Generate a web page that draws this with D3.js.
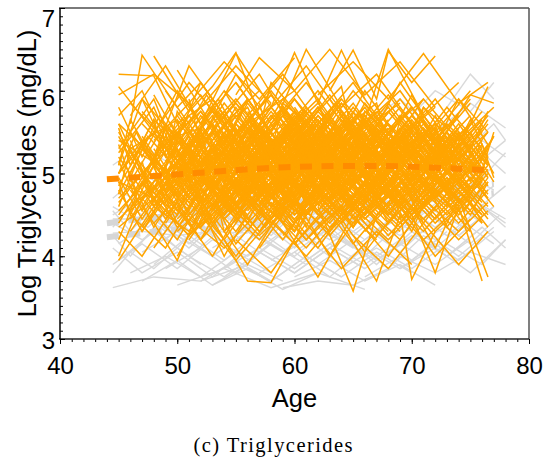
<!DOCTYPE html>
<html><head><meta charset="utf-8">
<script src="https://cdn.jsdelivr.net/npm/d3@7"></script>
<style>body{margin:0;background:#fff}svg{display:block}</style>
</head><body>
<svg id="c" width="544" height="465"></svg>
<script>
// x-axis and y-axis ticks
const xTicks = [40, 50, 60, 70, 80];
const yTicks = [3, 4, 5, 6, 7];
const xTitle = "Age";
const yTitle = "Log Triglycerides (mg/dL)";
const caption = "(c) Triglycerides";

// Subject trajectories (flat lists: age, value, age, value, ...)
const orangeSubjects = [
[45,6.2,48,6.18,50,5.6,53,5.9,56,5.3],
[45,5.1,47,5.9,50,5.4,52,6.1,55,5.5,58,5.8],
[45,4.6,47,5.3,50,4.9,53,5.6,56,5.1,59,5.4],
[45,5.5,48,4.8,51,5.3,54,4.7,57,5.2,60,4.9],
[45,4.2,47,4.9,50,4.5,52,5.2,55,4.8],
[45,3.95,48,4.6,51,4.3,54,5.0,57,4.6,60,5.1],
[45,5.8,47,5.2,50,6.0,53,5.4,56,5.9,59,5.3],
[45,5.0,48,5.5,51,4.7,54,5.3,57,4.9,60,5.6,63,5.1],
[45,4.8,47,4.3,50,5.0,53,4.4,56,4.9],
[45,5.3,48,5.9,50,5.2,53,5.7,56,5.0,59,5.4],
[45,4.4,48,5.1,51,4.6,54,5.3,57,4.8,60,5.5,63,4.9],
[45,5.6,47,5.0,50,5.5,53,4.9,55,5.6],
[45,4.0,47,4.7,50,4.2,53,4.9,56,4.5],
[45,5.2,48,4.6,51,5.4,54,4.8,57,5.5,60,5.0,63,5.6],
[45,6.05,48,5.5,51,6.1,54,5.6,57,6.0],
[46,4.9,49,5.6,52,5.1,55,5.8,58,5.2,61,5.7],
[46,5.4,48,4.7,51,5.2,54,4.5,57,5.1,60,4.6],
[46,4.5,49,4.1,52,4.8,55,4.3,58,4.9,61,4.4],
[46,5.7,49,6.3,52,5.6,55,6.1,58,5.5],
[47,5.0,50,5.4,53,4.8,56,5.5,59,5.0,62,5.3,65,4.9],
[47,4.3,50,4.9,53,4.4,56,5.0,59,4.6],
[47,5.9,49,5.3,52,5.8,55,5.1,58,5.7,61,5.2],
[47,4.7,50,5.3,53,4.6,56,5.4,59,4.9,62,5.5],
[48,5.2,51,6.3,54,5.7,57,6.2,60,5.5],
[48,4.1,51,4.7,54,4.2,57,4.8,60,4.3,63,4.9],
[48,5.5,51,5.0,54,5.6,57,5.0,60,5.7,63,5.2,66,5.6],
[48,4.8,50,5.4,53,4.9,56,5.5,59,5.1,62,5.6],
[49,5.3,52,4.7,55,5.4,58,4.8,61,5.2,64,4.7],
[49,6.0,52,5.4,55,6.2,58,5.6,61,6.1,64,5.5],
[49,4.4,52,5.0,55,4.5,58,5.2,61,4.7,64,5.1],
[50,5.1,53,5.8,56,5.2,59,5.7,62,5.0,65,5.5],
[50,4.6,53,4.0,56,4.7,59,4.2,62,4.8,65,4.4],
[50,5.7,53,5.1,56,5.9,59,5.3,62,5.8,65,5.2,68,5.6],
[50,4.9,53,5.5,56,4.8,59,5.4,62,5.0,65,5.6],
[51,5.4,54,6.0,57,5.3,60,5.9,63,5.4,66,5.8],
[51,4.2,54,4.8,57,4.3,60,4.9,63,4.5],
[51,5.0,54,4.5,57,5.2,60,4.6,63,5.3,66,4.8,69,5.2],
[52,5.6,55,6.45,58,5.8,61,6.3,64,5.7],
[52,4.7,55,5.3,58,4.6,61,5.2,64,4.8,67,5.4],
[52,5.3,55,4.8,58,5.5,61,4.9,64,5.6,67,5.1,70,5.5],
[53,4.5,56,3.9,59,4.6,62,4.1,65,4.7,68,4.3],
[53,5.8,56,5.2,59,5.9,62,5.4,65,6.0,68,5.5],
[53,5.0,56,5.6,59,5.1,62,5.7,65,5.2,68,5.6],
[54,4.8,57,5.4,60,4.9,63,5.5,66,5.0,69,5.4,72,4.9],
[54,5.5,57,4.9,60,5.6,63,5.0,66,5.7,69,5.2],
[54,4.3,57,4.9,60,4.4,63,5.0,66,4.5,69,5.0],
[55,6.1,58,5.5,61,6.5,64,5.8,67,6.2,70,5.6],
[55,5.2,58,5.8,61,5.3,64,5.9,67,5.4,70,5.8],
[55,4.6,58,5.1,61,4.5,64,5.2,67,4.7,70,5.3,73,4.8],
[56,5.0,59,4.4,62,5.1,65,4.6,68,5.2,71,4.7],
[56,5.7,59,6.2,62,5.6,65,6.1,68,5.5,71,5.9],
[56,4.9,59,5.5,62,5.0,65,5.6,68,5.1,71,5.5,74,5.0],
[57,4.1,60,4.7,63,4.0,66,4.6,69,4.2,72,4.8],
[57,5.4,60,5.9,63,5.3,66,5.8,69,5.2,72,5.6],
[57,5.1,60,4.6,63,5.3,66,4.7,69,5.4,72,4.9,75,5.3],
[58,5.6,61,5.0,64,5.7,67,5.1,70,5.6,73,5.0],
[58,4.7,61,5.3,64,4.8,67,5.4,70,4.9,73,5.5],
[59,5.3,62,5.8,65,5.2,68,6.5,71,5.7,74,6.1],
[59,4.4,62,3.75,65,4.5,68,4.0,71,4.6],
[60,5.0,63,5.6,66,5.1,69,5.7,72,5.2,75,5.6],
[60,5.8,63,5.2,66,6.0,69,5.4,72,5.9,75,5.3],
[61,4.9,64,5.4,67,4.7,70,5.3,73,4.8,76,5.2],
[61,5.5,64,4.9,67,5.6,70,5.0,73,5.5,76,4.9],
[62,4.6,65,5.2,68,4.5,71,5.1,74,4.6,76.5,5.0],
[62,5.2,65,5.8,68,5.3,71,5.9,74,5.4,77,5.8],
[63,5.9,66,5.3,69,6.1,72,5.5,75,6.0],
[63,4.3,66,4.9,69,4.4,72,5.0,75,4.5,76.5,4.9],
[64,5.4,67,4.8,70,5.5,73,4.9,76,5.4],
[64,5.0,67,5.5,70,5.0,73,5.6,76.5,5.1],
[65,4.7,68,5.3,71,4.6,74,5.2,76.5,4.7],
[66,5.6,69,6.0,72,5.4,75,5.9],
[67,5.1,70,4.5,73,5.2,76,4.4],
[45,5.35,46.5,4.75,49,5.45,51.5,4.95,54,5.5,57,5.05,60,5.55],
[45,4.85,47.5,5.45,50,5.05,52.5,5.65,55,5.15,58,5.7,61,5.2],
[45,5.15,47,4.55,49.5,5.2,52,4.6,55,5.3,58,4.75],
[46,5.0,48.5,5.7,51,5.2,54,5.85,57,5.3,60,5.75,63,5.25],
[46,4.7,48,5.2,51,4.5,54,5.1,57,4.6,60,5.2],
[47,5.45,49.5,4.9,52,5.5,55,5.0,58,5.6,61,5.1,64,5.5],
[48,5.05,50.5,5.6,53,5.1,56,5.65,59,5.2,62,5.75,65,5.3],
[49,4.9,51.5,4.3,54,5.0,57,4.5,60,5.1,63,4.6,66,5.0],
[50,5.35,52.5,5.95,55,5.4,58,6.0,61,5.45,64,5.9],
[51,5.15,53.5,4.7,56,5.3,59,4.85,62,5.4,65,4.9,68,5.3],
[52,4.95,54.5,5.5,57,5.05,60,5.6,63,5.1,66,5.65,69,5.15],
[53,5.25,55.5,4.65,58,5.3,61,4.75,64,5.35,67,4.85,70,5.4],
[54,5.05,56.5,5.65,59,5.15,62,5.7,65,5.2,68,5.75,71,5.25],
[55,4.85,57.5,5.35,60,4.7,63,5.3,66,4.8,69,5.35,72,4.9],
[56,5.45,58.5,4.95,61,5.6,64,5.05,67,5.55,70,5.0,73,5.45],
[57,4.9,59.5,5.5,62,4.95,65,5.55,68,5.0,71,5.5,74,5.05],
[58,5.2,60.5,4.6,63,5.25,66,4.7,69,5.3,72,4.75,75,5.2],
[59,5.6,61.5,5.05,64,5.65,67,5.1,70,5.6,73,5.1,76,5.5],
[60,4.95,62.5,5.45,65,4.85,68,5.4,71,4.9,74,5.35,76.5,4.85],
[61,5.3,63.5,5.85,66,5.3,69,5.8,72,5.25,75,5.7],
[62,5.0,64.5,4.5,67,5.1,70,4.55,73,5.05,76,4.6],
[63,5.25,65.5,5.75,68,5.2,71,5.7,74,5.15,76.5,5.6],
[64,4.8,66.5,5.3,69,4.75,72,5.25,75,4.7],
[45,5.7,47,6.0,49,5.4,52,5.95,55,5.35,58,5.85],
[45,4.55,48,5.0,50,4.4,53,4.95,56,4.45,59,5.0,62,4.5],
[46,5.25,49,4.8,52,5.35,55,4.85,58,5.4,61,4.95],
[47,5.6,50,5.15,53,5.75,56,5.2,59,5.8,62,5.25,65,5.7],
[48,4.55,51,5.15,54,4.6,57,5.2,60,4.65,63,5.25,66,4.7],
[49,5.15,52,5.75,55,5.2,58,5.8,61,5.25,64,5.85,67,5.3],
[50,5.5,53,4.95,56,5.55,59,5.0,62,5.6,65,5.05,68,5.55],
[51,4.75,54,5.25,57,4.7,60,5.3,63,4.8,66,5.35,69,4.85],
[52,5.1,55,5.6,58,5.05,61,5.65,64,5.1,67,5.6,70,5.05],
[53,5.45,56,4.9,59,5.5,62,4.95,65,5.55,68,5.0,71,5.5],
[54,4.95,57,5.45,60,4.9,63,5.5,66,4.95,69,5.55,72,5.0],
[55,5.3,58,4.75,61,5.35,64,4.8,67,5.4,70,4.85,73,5.35],
[56,5.15,59,5.7,62,5.15,65,5.75,68,5.2,71,5.7,74,5.15],
[57,5.55,60,5.05,63,5.6,66,5.1,69,5.65,72,5.15,75,5.6],
[58,4.85,61,5.4,64,4.9,67,5.45,70,4.95,73,5.4,76,4.9],
[59,5.05,62,4.55,65,5.1,68,4.6,71,5.15,74,4.65,76.5,5.1],
[60,5.4,63,5.95,66,5.4,69,5.9,72,5.35,75,5.85],
[61,5.1,64,5.6,67,5.05,70,5.65,73,5.1,76,5.55],
[62,5.45,65,4.95,68,5.5,71,5.0,74,5.45,76.5,4.95],
[45,4.3,47,4.0,50,4.65,52,4.2,55,4.7],
[50,4.0,52,4.5,55,3.95,58,4.45,61,4.0,64,4.5],
[55,4.2,58,3.8,61,4.4,64,3.85,67,4.3,70,3.9],
[60,4.15,63,4.65,66,4.05,69,4.6,72,4.0,75,4.45],
[65,4.25,68,3.85,71,4.4,74,3.9,76.5,4.3],
[70,4.6,72,4.1,74,4.7,76.5,3.75],
[45,5.95,48,6.2,51,5.85,54,6.35,57,5.9,60,6.4],
[55,5.95,57,6.4,60,6.0,63,6.5,66,5.95,69,6.35,72,5.8],
[62,5.95,65,6.35,68,5.9,71,6.45,74,5.85,76.5,6.1],
[68,5.4,70,5.95,72,5.35,74,5.9,76.5,5.5],
[70,5.2,72,5.7,74,5.1,76.5,5.65],
[66,4.9,69,5.45,72,4.85,75,5.35,77,4.9],
[50,6.25,52,5.8,55,6.3,58,5.85],
[46,4.3,49,4.9,52,4.35,55,4.95,58,4.4],
[71,5.0,73,5.5,75,4.9,77,5.45],
[67,5.75,70,5.25,73,5.8,76,5.3],
[45,5.0,46.5,5.5,49,4.8,50.5,5.25,53,5.6,55,4.9,58,5.3],
[45,4.7,48,5.15,49.5,5.6,52,5.0,55,4.6,57,5.2,60,5.45],
[45,5.45,47,4.95,49,4.6,52,5.3,54,5.75,57,5.1,59,5.5],
[45,5.25,48,5.8,50,5.15,51.5,4.85,54,5.45,57,4.95,60,5.4,62,5.05],
[45,4.95,47,4.45,50,5.1,52,5.55,55,5.05,58,4.7,61,5.2],
[45,5.6,48,5.2,51,5.7,53,5.3,56,4.95,59,5.55],
[46,5.1,48,5.65,51,5.25,54,4.75,56,5.35,59,5.8,62,5.15],
[46,4.6,49,5.05,51,4.7,54,5.2,57,5.5,60,4.9,63,5.35],
[46,5.5,48.5,5.05,51,5.5,53.5,5.9,56,5.25,59,4.85,62,5.3],
[47,4.85,49,5.35,52,5.75,55,5.2,57,4.75,60,5.15,63,5.6],
[47,5.3,50,4.75,52.5,5.2,55,4.65,58,5.05,61,5.5,64,4.95],
[47,5.75,49.5,5.3,52,4.9,55,5.45,58,5.95,61,5.4,64,5.0],
[48,5.0,50,4.55,53,5.15,56,5.6,58,5.1,61,4.7,64,5.25,67,4.8],
[48,5.4,51,5.85,53,5.35,56,4.95,59,5.45,62,5.85,65,5.3],
[48,4.75,50.5,5.25,53,4.8,56,5.35,58.5,4.9,61,5.5,64,5.0],
[49,5.55,51,5.0,54,5.45,57,4.85,60,5.35,63,5.0,66,5.5],
[49,5.0,52,5.45,55,5.9,58,5.35,61,4.8,64,5.3,67,5.7],
[49,4.65,51.5,5.1,54,4.6,57,5.1,60,5.55,63,5.05,66,4.6],
[50,5.25,52,5.7,55,5.15,57,4.7,60,5.2,63,5.65,66,5.05,69,5.45],
[50,4.8,53,5.3,55.5,4.75,58,5.25,61,4.65,64,5.15,67,4.7],
[50,5.65,52.5,5.15,55,5.7,58,5.25,61,5.8,64,5.3,67,5.75],
[51,4.9,53,4.45,56,4.95,59,5.5,62,5.0,65,4.55,68,5.05],
[51,5.5,54,5.05,56.5,5.6,59,5.15,62,5.65,65,5.1,68,5.6,71,5.2],
[51,5.2,53.5,5.75,56,5.3,59,4.8,62,5.35,65,5.85,68,5.25],
[52,4.6,54,5.05,57,4.55,60,5.1,63,4.65,66,5.2,69,4.7],
[52,5.35,55,5.85,58,5.25,60.5,5.75,63,5.2,66,5.7,69,5.1],
[52,5.0,54.5,5.5,57,5.0,59.5,4.55,62,5.05,65,5.55,68,5.0,71,5.4],
[53,5.7,55,5.2,58,5.75,61,5.2,63,5.7,66,5.15,69,5.65],
[53,4.85,56,5.35,59,4.8,62,5.3,64.5,4.75,67,5.25,70,4.8],
[53,5.15,55.5,4.7,58,5.25,61,5.75,64,5.15,67,4.7,70,5.2,73,5.6],
[54,5.35,56,5.85,59,5.3,62,4.85,65,5.35,68,5.85,71,5.3],
[54,4.7,57,5.2,59.5,4.6,62,5.15,65,4.7,68,5.25,71,4.75],
[54,5.6,57,5.1,60,5.65,63,5.15,65.5,5.7,68,5.2,71,5.65,74,5.1],
[55,5.05,57,5.55,60,5.0,63,5.5,66,4.95,69,5.45,72,5.0],
[55,5.5,58,5.95,61,5.35,64,5.85,67,5.3,70,5.8,73,5.25],
[55,4.8,57.5,4.35,60,4.85,63,4.4,66,4.9,69,4.45,72,4.95],
[56,5.3,58,4.8,61,5.35,64,4.85,67,5.4,70,4.9,73,5.35],
[56,5.75,59,5.25,62,5.8,65,5.3,68,5.8,71,5.25,74,5.7],
[56,4.95,58.5,5.45,61,4.9,64,5.45,66.5,4.95,69,5.5,72,5.0,75,5.4],
[57,5.2,60,5.7,62,5.15,65,5.65,68,5.1,71,5.6,74,5.05],
[57,4.65,60,5.15,63,4.7,66,5.2,69,4.65,72,5.15,75,4.7],
[57,5.6,59.5,5.1,62,5.65,65,5.1,68,5.6,71,5.05,74,5.55],
[58,5.0,61,5.5,64,4.95,67,5.5,70,5.0,73,5.5,76,5.0],
[58,5.4,60,4.9,63,5.45,66,4.95,69,5.5,72,5.0,75,5.45],
[58,4.75,61,5.25,63.5,4.7,66,5.25,69,4.75,72,5.3,75,4.8],
[59,5.5,62,6.0,65,5.45,68,5.95,71,5.4,74,5.9,76.5,5.35],
[59,5.15,61,4.65,64,5.2,67,4.7,70,5.25,73,4.75,76,5.2],
[60,4.7,62,5.2,65,4.75,68,5.25,71,4.7,74,5.2,76.5,4.75],
[60,5.3,63,4.8,65.5,5.35,68,4.85,71,5.4,74,4.9,76.5,5.35],
[61,5.6,63,5.1,66,5.65,69,5.15,72,5.6,75,5.1],
[61,4.85,64,5.35,67,4.85,70,5.4,73,4.9,76,5.35],
[62,5.25,64,5.75,67,5.2,70,5.7,73,5.15,76,5.65],
[62,4.8,65,4.35,68,4.9,71,4.4,74,4.95,76.5,4.5],
[63,5.45,66,4.95,69,5.5,72,5.0,75,5.5,77,5.0],
[63,5.0,65,5.5,68,5.0,71,5.55,74,5.05,76.5,5.5],
[64,5.65,67,5.15,70,5.7,73,5.2,76,5.65],
[64,4.55,67,5.05,70,4.6,73,5.1,76,4.65],
[65,5.3,67,4.8,70,5.35,73,4.85,76,5.3],
[65,5.0,68,5.5,71,5.0,74,5.5,76.5,4.95],
[66,5.45,69,4.95,72,5.5,75,5.0,77,5.45],
[66,4.75,69,5.25,72,4.7,75,5.2],
[67,5.3,70,5.8,73,5.25,76,5.75],
[68,4.9,71,5.4,74,4.85,76.5,5.3],
[69,5.55,71,5.05,74,5.6,76.5,5.1],
[45,5.0,47,5.4,49,5.0,51,5.45,53,4.95,55,5.4,57,4.9,59,5.35],
[47,4.95,49,5.4,51,4.9,53,5.35,55,4.85,57,5.3,59,4.85,61,5.3],
[50,5.1,52,5.5,54,5.05,56,5.55,58,5.0,60,5.5,62,5.05,64,5.45],
[53,5.3,55,4.85,57,5.35,59,4.9,61,5.4,63,4.95,65,5.4,67,4.9],
[56,5.05,58,5.5,60,5.0,62,5.55,64,5.05,66,5.5,68,5.0,70,5.45],
[59,4.9,61,5.35,63,4.85,65,5.4,67,4.9,69,5.35,71,4.85,73,5.3],
[62,5.4,64,4.95,66,5.45,68,5.0,70,5.5,72,5.0,74,5.45,76,5.0],
[48,5.3,50,4.85,52,5.4,54,4.9,56,5.45,58,5.0,60,5.4,62,4.95],
[51,4.85,53,5.3,55,4.8,57,5.35,59,4.85,61,5.3,63,4.8,65,5.25],
[54,5.25,56,5.7,58,5.2,60,5.75,62,5.25,64,5.7,66,5.2,68,5.65],
[57,5.45,59,4.95,61,5.5,63,5.0,65,5.45,67,4.95,69,5.4,71,5.0],
[60,5.15,62,5.6,64,5.1,66,5.65,68,5.15,70,5.6,72,5.1,74,5.55],
[63,4.85,65,5.3,67,4.8,69,5.35,71,4.85,73,5.3,75,4.8],
[45,5.4,49,5.05,50,5.75,54,4.9,55,5.5,59,5.2,60,4.7],
[45,4.75,46,5.3,50,5.65,51,4.95,55,5.4,56,4.8,60,5.25],
[46,5.85,49,5.4,52,5.55,53,4.85,57,5.6,59,5.05,62,5.5],
[46,4.45,48,4.9,52,5.35,53,4.7,56,5.15,60,4.75,61,5.4],
[47,5.15,48,4.6,51,5.05,54,5.7,55,5.1,59,5.45,61,4.9],
[48,5.95,50,5.45,53,5.05,55,5.6,58,5.25,59,5.85,63,5.4],
[49,4.85,50,5.4,54,5.0,55,5.55,58,4.75,62,5.2,63,5.75],
[50,4.45,53,4.9,54,4.3,58,4.85,59,4.4,63,5.0,65,4.55],
[51,5.9,52,5.35,56,5.8,58,5.2,61,5.65,62,5.1,66,5.6],
[52,5.45,54,4.8,57,5.4,58,4.95,62,5.5,63,4.85,67,5.35],
[53,4.55,56,5.1,57,4.65,60,4.3,62,4.95,66,4.5,68,5.05],
[54,6.0,57,5.55,58,6.1,61,5.6,64,6.05,65,5.45,69,5.85],
[55,5.15,56,5.65,60,5.2,61,4.7,65,5.3,66,5.75,70,5.2],
[56,4.55,59,5.05,60,4.5,64,5.0,65,4.45,69,4.95,71,4.4],
[57,5.85,58,5.35,62,5.9,63,5.4,67,5.85,68,5.3,72,5.8],
[58,5.25,61,4.75,62,5.3,66,4.8,67,5.35,71,4.85,73,5.3],
[59,4.6,60,5.1,64,4.55,65,5.15,69,4.6,70,5.2,74,4.65],
[60,5.55,63,5.0,64,5.6,68,5.1,69,5.65,73,5.15,75,5.6],
[61,5.0,62,5.5,66,5.0,67,5.55,71,5.05,72,5.5,76,5.0],
[62,5.7,65,5.2,66,5.75,70,5.25,71,5.8,75,5.3,76.5,5.75],
[63,4.65,64,5.15,68,4.6,69,5.1,73,4.6,74,5.1,76.5,4.7],
[64,5.35,66,5.85,69,5.3,71,5.8,74,5.25,76.5,5.7],
[65,4.85,66,5.35,70,4.8,71,5.3,75,4.75,76.5,5.2],
[67,5.55,68,5.0,72,5.55,73,5.05,76.5,5.5],
[45,5.1,46,5.65,48,5.15,49,5.55,51,5.0,52,5.5],
[45,4.9,46,4.5,48,5.1,49,4.65,51,5.15,52,4.7],
[45,5.55,46,5.1,48,5.65,49,5.2,51,5.7],
[70,5.3,71,4.85,73,5.4,74,4.9,76,5.35,77,4.95],
[70,4.95,71,5.45,73,5.0,74,5.5,76,5.05,77,5.5],
[72,5.6,73,5.1,75,5.65,76.5,5.2],
[46,5.6,47,6.43,50,5.8,52,6.1,55,5.5],
[48,6.42,51,5.75,53,6.05,55,6.46,57,5.7,60,6.0],
[58,5.8,60,6.46,62,5.85,64,6.49,66,5.9],
[63,6.0,65,6.49,67,5.9,68,6.48,70,6.1,72,6.42],
[73,5.5,75,5.95,77,5.85],
[74,5.3,76.5,6.05],
[52,4.7,56,3.7,58,3.68,60,4.2,62,4.8],
[62,4.6,65,3.58,67,4.5],
[64,4.4,67,3.7,69,4.5,70,3.72,72,4.3],
[70,4.5,72,3.8,74,4.6,76,3.7],
[48,4.4,50,3.95,52,4.6,54,4.0,56,4.5],
[45,4.65,47,5.0,50,4.55,52,4.95,55,4.5,58,4.9,61,4.45],
[45,4.45,48,4.85,50,4.35,53,4.8,56,4.4,59,4.85],
[46,4.8,48,4.4,51,4.85,54,4.5,57,4.95,60,4.55,63,4.9],
[46,4.55,49,4.95,52,4.5,55,4.9,58,4.45,61,4.8],
[47,4.9,49,4.5,52,4.95,55,4.45,58,4.9,61,4.5,64,4.95],
[48,4.6,50,5.0,53,4.55,56,5.05,59,4.6,62,5.0,65,4.55],
[49,4.75,52,4.35,55,4.8,58,4.4,61,4.85,64,4.45,67,4.9],
[50,4.55,52,4.95,55,4.5,58,4.95,61,4.5,64,4.9,67,4.45],
[51,4.85,54,4.45,57,4.9,60,4.4,63,4.85,66,4.45,69,4.9],
[52,4.5,55,4.9,58,4.45,61,4.95,64,4.5,67,4.95,70,4.5],
[53,4.7,56,5.05,59,4.6,62,5.0,65,4.55,68,4.95,71,4.6],
[54,4.45,57,4.85,60,4.5,63,4.95,66,4.5,69,4.9,72,4.45],
[55,4.95,58,4.55,61,4.95,64,4.5,67,4.9,70,4.5,73,4.85],
[56,4.6,59,5.0,62,4.55,65,4.95,68,4.5,71,4.9,74,4.55],
[57,4.85,60,4.45,63,4.9,66,4.45,69,4.85,72,4.4,75,4.8],
[58,4.5,61,4.9,64,4.45,67,4.9,70,4.5,73,4.95,76,4.5],
[59,4.75,62,5.1,65,4.7,68,5.05,71,4.65,74,5.0,76.5,4.6],
[60,4.55,63,4.95,66,4.5,69,4.9,72,4.45,75,4.85],
[61,4.8,64,4.4,67,4.85,70,4.45,73,4.9,76,4.5],
[62,4.45,65,4.85,68,4.4,71,4.85,74,4.4,76.5,4.8],
[63,4.7,66,5.05,69,4.6,72,5.0,75,4.55],
[64,4.95,67,4.5,70,4.95,73,4.5,76,4.9],
[65,4.5,68,4.9,71,4.45,74,4.9,76.5,4.45],
[66,4.65,69,5.0,72,4.55,75,4.95,77,4.6],
[67,4.9,70,4.45,73,4.85,76,4.4],
[68,4.55,71,4.95,74,4.5,76.5,4.9],
[45,4.75,46.5,5.15,48,4.7,50.5,5.1,52,4.6,54.5,5.05,56,4.65],
[47,4.6,48.5,4.95,51,4.55,52.5,4.95,55,4.55,56.5,5.0,59,4.6],
[50,4.7,51.5,5.1,54,4.65,55.5,5.05,58,4.6,59.5,5.0,62,4.65],
[53,4.95,54.5,4.55,57,5.0,58.5,4.6,61,5.05,62.5,4.65,65,5.0],
[56,4.75,57.5,5.15,60,4.7,61.5,5.1,64,4.65,65.5,5.05,68,4.7],
[59,4.95,60.5,4.55,63,5.0,64.5,4.6,67,5.05,68.5,4.6,71,5.0],
[62,4.7,63.5,5.1,66,4.65,67.5,5.05,70,4.6,71.5,5.0,74,4.65],
[65,5.05,66.5,4.6,69,5.0,70.5,4.55,73,4.95,74.5,4.55,76.5,4.95],
[45,4.9,48,4.7,51,5.05,54,4.65,57,5.0,60,4.7],
[49,5.0,52,4.75,55,5.1,58,4.7,61,5.05,64,4.75,67,5.1],
[54,4.85,57,4.6,60,5.0,63,4.65,66,5.05,69,4.7,72,5.0],
[58,5.05,61,4.7,64,5.1,67,4.75,70,5.05,73,4.7,76,5.05],
[61,4.6,64,4.95,67,4.6,70,5.0,73,4.65,76,5.0],
[51,4.6,53,5.15,56,4.4,58,5.1,61,4.35,63,5.05,66,4.4],
[55,4.4,57,5.0,60,4.3,62,4.95,65,4.35,67,5.0,70,4.4],
[60,4.4,62,5.05,65,4.35,67,5.0,70,4.3,72,4.95,75,4.35],
[46,4.95,48,4.35,51,5.0,53,4.4,56,5.05,58,4.45],
[66,4.95,68,4.4,71,5.0,73,4.35,76,4.95],
[52,5.05,55,4.6,57,5.2,60,4.75,63,5.25,66,4.7,69,5.15],
[57,4.95,59,5.3,62,4.8,65,5.2,68,4.75,71,5.15,74,4.7],
[48,5.1,51,4.65,54,5.15,57,4.7,60,5.2,63,4.75],
[63,5.1,66,4.7,69,5.15,72,4.7,75,5.1],
[70,4.7,72,5.1,74,4.65,76.5,5.05],
[45,4.5,47,4.9,49,4.45,51,4.9,53,4.4],
[47,4.35,49,4.75,52,4.2,54,4.7,57,4.25,60,4.65],
[50,4.3,53,4.7,55,4.15,58,4.65,61,4.2,64,4.6],
[53,4.4,55,4.0,58,4.55,61,4.1,64,4.6,67,4.2],
[56,4.3,58,4.75,61,4.2,64,4.7,67,4.25,70,4.7],
[59,4.25,62,4.7,65,4.15,68,4.65,71,4.2,74,4.6],
[62,4.35,65,4.75,68,4.25,71,4.7,74,4.3,76.5,4.65],
[65,4.6,68,4.2,71,4.65,74,4.2,76.5,4.55],
[48,4.7,51,4.25,54,4.75,57,4.3,60,4.8],
[54,4.6,57,4.2,60,4.7,63,4.25,66,4.75,69,4.3],
[60,4.65,63,4.3,66,4.75,69,4.35,72,4.8,75,4.3],
[57,4.45,60,4.85,63,4.35,66,4.8,69,4.4,72,4.85],
[51,4.45,54,4.1,57,4.55,60,4.15,63,4.6],
[66,4.3,69,4.75,72,4.3,75,4.7],
[45,4.35,48,4.7,51,4.25,54,4.65],
[68,4.75,71,4.3,74,4.8,76.5,4.35]
];

const graySubjects = [
[44.5,4.4,47,4.2,50,4.5,53,4.3,56,4.6],
[44.5,3.62,48,3.75,52,3.7,56,3.9],
[44.5,3.9,47,4.15,50,3.85,53,4.2,56,4.0,59,4.3],
[44.5,4.6,47.5,4.35,50,4.7,53,4.4,56,4.75,59,4.5],
[44.5,4.1,47,3.8,50,4.05,53,3.75,56,4.1],
[45,4.8,48,4.55,51,4.9,54,4.6,57,4.95],
[45,3.95,48,4.3,51,4.0,54,4.35,57,4.05,60,4.4],
[46,4.25,49,4.55,52,4.2,55,4.6,58,4.3,61,4.65],
[47,3.7,50,3.95,53,3.65,56,3.9,59,3.7],
[48,4.45,51,4.15,54,4.5,57,4.2,60,4.55,63,4.3],
[49,3.85,52,4.1,55,3.8,58,4.15,61,3.9,64,4.2],
[50,4.6,53,4.9,56,4.55,59,4.85,62,4.5],
[51,4.0,54,3.75,57,4.05,60,3.8,63,4.1,66,3.85],
[52,4.3,55,4.6,58,4.25,61,4.65,64,4.35,67,4.7],
[53,3.65,56,3.85,59,3.6,62,3.8],
[54,4.15,57,4.45,60,4.1,63,4.5,66,4.2,69,4.55],
[55,3.9,58,3.7,61,4.0,64,3.75,67,4.05,70,3.8],
[56,4.5,59,4.2,62,4.55,65,4.25,68,4.6,71,4.3],
[57,3.8,60,4.05,63,3.75,66,4.1,69,3.85,72,4.15],
[58,4.35,61,4.65,64,4.3,67,4.7,70,4.4,73,4.75],
[59,3.62,62,3.7,65,3.65,68,3.85],
[60,4.05,63,4.35,66,4.0,69,4.4,72,4.1,75,4.45],
[61,4.6,64,4.3,67,4.65,70,4.35,73,4.7,76,4.4],
[62,3.9,65,4.2,68,3.85,71,4.25,74,3.95,77,4.3],
[63,4.45,66,4.75,69,4.4,72,4.8,75,4.5,78,4.85],
[64,4.2,67,3.95,70,4.25,73,4.0,76,4.35,78,4.1],
[65,4.7,68,5.0,71,4.65,74,5.05,77,4.8],
[66,3.75,69,4.0,72,3.8,75,4.05,78,3.9],
[67,4.9,70,5.2,73,4.85,76,5.25,78,5.0],
[68,5.3,71,5.55,74,5.2,77,5.6,78,5.4],
[70,5.7,72,6.0,75,5.75,77,6.1],
[72,4.55,74,4.3,76,4.6,78,4.4],
[44.5,4.7,47,5.0,50,4.75,53,5.05,56,4.8,59,5.1],
[44.5,5.1,47,5.35,50,5.05,53,5.4],
[44.5,4.35,46,4.6,49,4.3,52,4.65,55,4.4,58,4.7,61,4.45],
[45,4.15,48,4.45,51,4.1,54,4.5,57,4.2,60,4.55,63,4.25],
[46,3.8,49,4.0,52,3.75,55,4.05,58,3.8],
[47,4.55,50,4.3,53,4.6,56,4.35,59,4.65,62,4.4,65,4.7],
[48,3.9,51,4.25,54,3.95,57,4.3,60,4.0,63,4.35],
[50,4.25,53,4.0,56,4.3,59,4.05,62,4.35,65,4.1,68,4.4],
[52,3.7,55,3.95,58,3.7,61,4.0,64,3.75],
[53,4.75,56,4.45,59,4.8,62,4.5,65,4.85,68,4.55],
[55,4.3,58,4.55,61,4.25,64,4.6,67,4.3,70,4.65,73,4.35],
[57,4.05,60,3.8,63,4.1,66,3.85,69,4.15,72,3.9,75,4.2],
[59,4.7,62,4.45,65,4.75,68,4.5,71,4.8,74,4.55,77,4.85],
[61,3.95,64,4.25,67,3.9,70,4.3,73,4.0,76,4.35],
[63,4.1,66,4.4,69,4.05,72,4.45,75,4.15,77.5,4.5],
[65,4.5,68,4.2,71,4.55,74,4.25,77,4.6],
[67,4.3,70,4.55,73,4.25,76,4.6,78,4.35],
[69,3.85,72,4.1,75,3.8,78,4.2],
[44.5,4.5,48,4.8,52,4.45,56,4.85],
[60,3.75,63,3.95,66,3.7,69,3.9,72,3.65],
[50,3.65,54,3.85,58,3.62,62,3.8,66,3.6],
[66,5.6,69,5.9,72,5.5,75,5.85,78,5.55],
[74,5.1,76,5.4,78,5.2],
[44.5,4.25,46,4.0,48,4.35,50,4.1,52,4.4,54,4.15],
[44.5,3.8,46,4.05,48,3.85,50,4.1,52,3.9],
[44.5,4.55,46,4.3,48,4.6,50,4.35,52,4.65],
[44.5,4.45,47,4.45,50,4.4,53,4.45],
[44.5,4.28,47,4.3,50,4.25,53,4.3,56,4.28],
[46,4.7,48,4.4,51,4.75,54,4.45,57,4.8,60,4.5],
[49,4.2,51,4.45,54,4.15,57,4.5,60,4.2,63,4.55],
[51,4.4,54,4.65,57,4.35,60,4.7,63,4.4,66,4.75],
[54,3.85,57,4.1,60,3.85,63,4.15,66,3.9,69,4.2],
[56,4.2,59,4.45,62,4.15,65,4.5,68,4.2,71,4.55],
[58,3.95,61,4.2,64,3.9,67,4.25,70,3.95,73,4.3],
[60,4.45,63,4.2,66,4.5,69,4.25,72,4.55,75,4.3],
[62,4.25,65,4.5,68,4.2,71,4.55,74,4.25,77,4.6],
[64,3.85,67,4.1,70,3.85,73,4.15,76,3.9,78,4.2],
[66,4.4,69,4.65,72,4.35,75,4.7,78,4.45],
[68,4.05,71,4.3,74,4.0,77,4.35],
[53,4.1,56,4.35,59,4.05,62,4.4,65,4.1],
[47,4.05,50,4.3,53,4.0,56,4.3],
[52,4.85,55,5.1,58,4.8,61,5.15,64,4.85,67,5.2],
[58,4.9,61,5.2,64,4.85,67,5.25,70,4.95,73,5.3],
[63,5.0,66,5.3,69,4.95,72,5.35,75,5.05,78,5.4],
[70,4.9,73,5.2,76,4.95,78,5.25],
[73,5.8,75,6.2,77,5.9],
[71,4.2,74,4.45,77,4.15]
];

// Group mean curves
const meanAges   = [44, 48, 52, 56, 60, 64, 68, 72, 76.5];
const meanOrange = [4.93, 4.97, 5.01, 5.05, 5.08, 5.09, 5.09, 5.07, 5.04];
const grayMeanAges = [44, 50, 56, 62, 68, 74, 77];
const grayMeanA = [4.40, 4.50, 4.60, 4.68, 4.76, 4.84, 4.88];
const grayMeanB = [4.23, 4.33, 4.45, 4.55, 4.64, 4.72, 4.76];

const svg = d3.select("#c");
const L = 60, R = 529, T = 8, B = 339;
const x = d3.scaleLinear().domain([40, 80]).range([L, R]);
const y = d3.scaleLinear().domain([3, 7]).range([B, T]);

const toPts = arr => { const p = []; for (let i = 0; i < arr.length; i += 2) p.push([arr[i], arr[i+1]]); return p; };
const line = d3.line().x(d => x(d[0])).y(d => y(d[1]));

// frame
svg.append("line").attr("x1", L-1).attr("x2", R).attr("y1", T).attr("y2", T).attr("stroke", "#7a7a7a").attr("stroke-width", 2);
svg.append("line").attr("x1", R).attr("x2", R).attr("y1", T).attr("y2", B).attr("stroke", "#555").attr("stroke-width", 1.5);

const g = svg.append("g");
g.selectAll("path.gray").data(graySubjects).join("path").attr("class", "gray")
  .attr("d", d => line(toPts(d))).attr("fill", "none").attr("stroke", "#d9d9d9").attr("stroke-width", 1.4);

[grayMeanA, grayMeanB].forEach(vals => {
  g.append("path").attr("d", d3.line().curve(d3.curveMonotoneX).x((d, i) => x(grayMeanAges[i])).y(d => y(d))(vals))
   .attr("fill", "none").attr("stroke", "#d6d6d6").attr("stroke-width", 6).attr("stroke-dasharray", "12,9.5");
});

g.selectAll("path.or").data(orangeSubjects).join("path").attr("class", "or")
  .attr("d", d => line(toPts(d))).attr("fill", "none").attr("stroke", "#ffa500").attr("stroke-width", 1.5);

g.append("path").attr("d", d3.line().curve(d3.curveMonotoneX).x((d, i) => x(meanAges[i])).y(d => y(d))(meanOrange))
  .attr("fill", "none").attr("stroke", "#ff8c00").attr("stroke-width", 6).attr("stroke-dasharray", "12,9.5");

// axes
const font = "Liberation Sans, Arial, sans-serif";
const xMinor = d3.range(40, 81, 1);
const yMinor = d3.range(3, 7.001, 0.1);
const xa = svg.append("g").attr("transform", `translate(0,${B})`)
  .call(d3.axisBottom(x).tickValues(xMinor).tickSize(3).tickFormat(""));
xa.select(".domain").remove();
const xb = svg.append("g").attr("transform", `translate(0,${B})`)
  .call(d3.axisBottom(x).tickValues(xTicks).tickSize(5).tickPadding(13).tickFormat(d3.format("d")));
xb.select(".domain").attr("d", `M${L-1},0H${R}`).attr("stroke", "#222").attr("stroke-width", 1.5);
xb.selectAll("text").attr("font-family", font).attr("font-size", 24).attr("fill", "#000");

const ya = svg.append("g").attr("transform", `translate(${L},0)`)
  .call(d3.axisLeft(y).tickValues(yMinor).tickSize(-3).tickFormat(""));
ya.select(".domain").remove();
const yb = svg.append("g").attr("transform", `translate(${L},0)`)
  .call(d3.axisLeft(y).tickValues(yTicks).tickSize(-5).tickPadding(5).tickFormat(d3.format("d")));
yb.select(".domain").attr("d", `M0,${T}V${B}`).attr("stroke", "#000").attr("stroke-width", 1.5);
yb.selectAll("text").attr("font-family", font).attr("font-size", 24).attr("fill", "#000")
  .attr("dy", d => d === 7 ? "0.75em" : d === 6 ? "0.62em" : "0.4em");

svg.append("text").attr("x", x(60)).attr("y", 407).attr("text-anchor", "middle")
  .attr("font-family", font).attr("font-size", 25.5).text(xTitle);
svg.append("text").attr("transform", `translate(36,${(T+B)/2}) rotate(-90)`).attr("text-anchor", "middle")
  .attr("font-family", font).attr("font-size", 25.5).text(yTitle);
svg.append("text").attr("x", 273).attr("y", 452).attr("text-anchor", "middle")
  .attr("font-family", "Liberation Serif, serif").attr("font-size", 20.5).attr("textLength", 159).text(caption);
</script>
</body></html>
